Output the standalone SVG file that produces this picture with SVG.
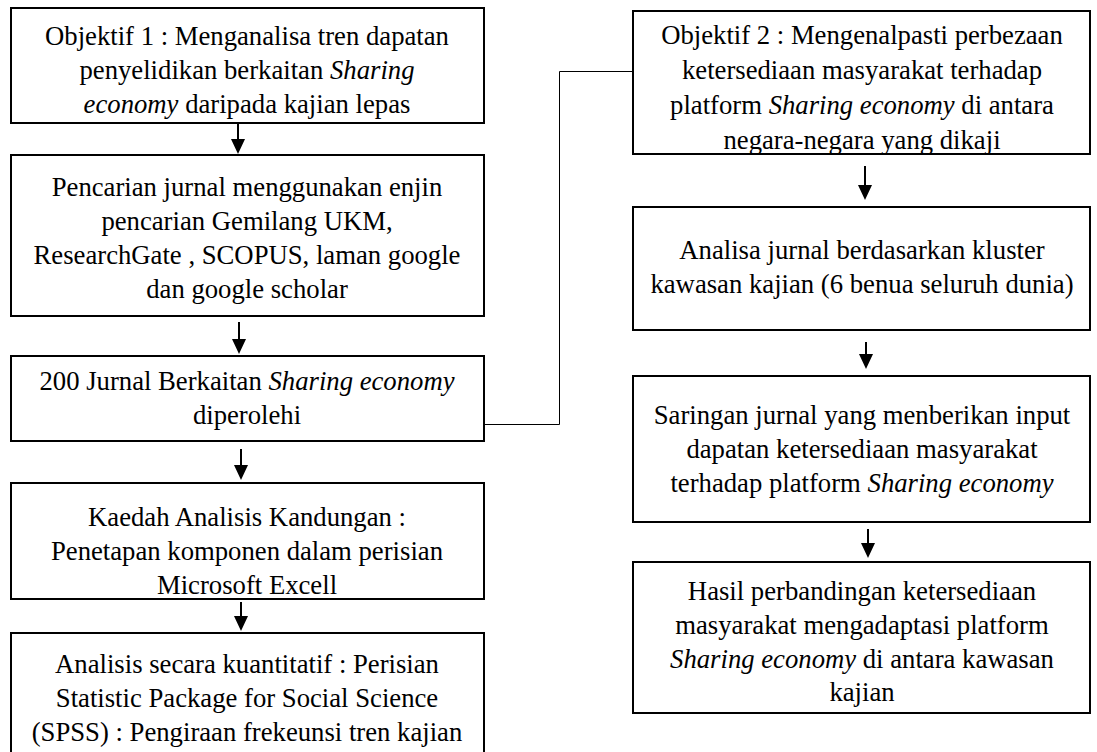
<svg xmlns="http://www.w3.org/2000/svg" width="1097" height="752" viewBox="0 0 1097 752">
<style>
.box{fill:#fff;stroke:#000;stroke-width:2}
.t{font-family:"Liberation Serif","Times New Roman",serif;font-size:26.7px;fill:#000;text-anchor:middle}
.i{font-style:italic}
.shaft{stroke:#000;stroke-width:2;fill:none}
.con{stroke:#000;stroke-width:1;fill:none}
</style>
<defs>
<path id="head" d="M-7,-15 L7,-15 L0,0 Z" fill="#000"/>
</defs>
<rect width="1097" height="752" fill="#fff"/>
<g id="connectors">
<path class="con" d="M484,424.5 H559.5 V71.5 H633"/>
<line class="shaft" x1="238" y1="123" x2="238" y2="140"/><use href="#head" x="238" y="154"/>
<line class="shaft" x1="239" y1="322" x2="239" y2="340"/><use href="#head" x="239" y="354"/>
<line class="shaft" x1="241" y1="449" x2="241" y2="466"/><use href="#head" x="241" y="480"/>
<line class="shaft" x1="241" y1="602" x2="241" y2="617"/><use href="#head" x="241" y="631"/>
<line class="shaft" x1="865" y1="166" x2="865" y2="186"/><use href="#head" x="865" y="200"/>
<line class="shaft" x1="866" y1="342" x2="866" y2="355"/><use href="#head" x="866" y="369"/>
<line class="shaft" x1="868" y1="529" x2="868" y2="544"/><use href="#head" x="868" y="558"/>
</g>
<g id="obj1">
<rect class="box" x="11" y="8" width="473" height="115"/>
<text class="t" x="247" y="45">Objektif 1 : Menganalisa tren dapatan</text>
<text class="t" x="247" y="79">penyelidikan berkaitan <tspan class="i">Sharing</tspan></text>
<text class="t" x="247" y="113"><tspan class="i">economy</tspan> daripada kajian lepas</text>
</g>
<g id="pencarian">
<rect class="box" x="11" y="155" width="473" height="161"/>
<text class="t" x="247" y="196">Pencarian jurnal menggunakan enjin</text>
<text class="t" x="247" y="230">pencarian Gemilang UKM,</text>
<text class="t" x="247" y="264">ResearchGate , SCOPUS, laman google</text>
<text class="t" x="247" y="298">dan google scholar</text>
</g>
<g id="jurnal200">
<rect class="box" x="11" y="356" width="473" height="85"/>
<text class="t" x="247" y="390">200 Jurnal Berkaitan <tspan class="i">Sharing economy</tspan></text>
<text class="t" x="247" y="424">diperolehi</text>
</g>
<g id="kaedah">
<rect class="box" x="11" y="483" width="473" height="116"/>
<text class="t" x="247" y="526">Kaedah Analisis Kandungan :</text>
<text class="t" x="247" y="560">Penetapan komponen dalam perisian</text>
<text class="t" x="247" y="594">Microsoft Excell</text>
</g>
<g id="kuantitatif">
<rect class="box" x="11" y="633" width="473" height="130"/>
<text class="t" x="247" y="673">Analisis secara kuantitatif : Perisian</text>
<text class="t" x="247" y="707">Statistic Package for Social Science</text>
<text class="t" x="247" y="741">(SPSS) : Pengiraan frekeunsi tren kajian</text>
</g>
<g id="obj2">
<text class="t" x="862" y="44">Objektif 2 : Mengenalpasti perbezaan</text>
<text class="t" x="862" y="79">ketersediaan masyarakat terhadap</text>
<text class="t" x="862" y="114">platform <tspan class="i">Sharing economy</tspan> di antara</text>
<text class="t" x="862" y="149">negara-negara yang dikaji</text>
<rect x="634" y="155" width="456" height="8" fill="#fff"/>
<rect class="box" x="633" y="11" width="457" height="143" style="fill:none"/>
</g>
<g id="analisa">
<rect class="box" x="633" y="207" width="457" height="123"/>
<text class="t" x="862" y="259">Analisa jurnal berdasarkan kluster</text>
<text class="t" x="862" y="293">kawasan kajian (6 benua seluruh dunia)</text>
</g>
<g id="saringan">
<rect class="box" x="633" y="376" width="457" height="146"/>
<text class="t" x="862" y="424">Saringan jurnal yang menberikan input</text>
<text class="t" x="862" y="458">dapatan ketersediaan masyarakat</text>
<text class="t" x="862" y="492">terhadap platform <tspan class="i">Sharing economy</tspan></text>
</g>
<g id="hasil">
<rect class="box" x="633" y="562" width="457" height="151"/>
<text class="t" x="862" y="600">Hasil perbandingan ketersediaan</text>
<text class="t" x="862" y="634">masyarakat mengadaptasi platform</text>
<text class="t" x="862" y="668"><tspan class="i">Sharing economy</tspan> di antara kawasan</text>
<text class="t" x="862" y="701">kajian</text>
</g>
</svg>
